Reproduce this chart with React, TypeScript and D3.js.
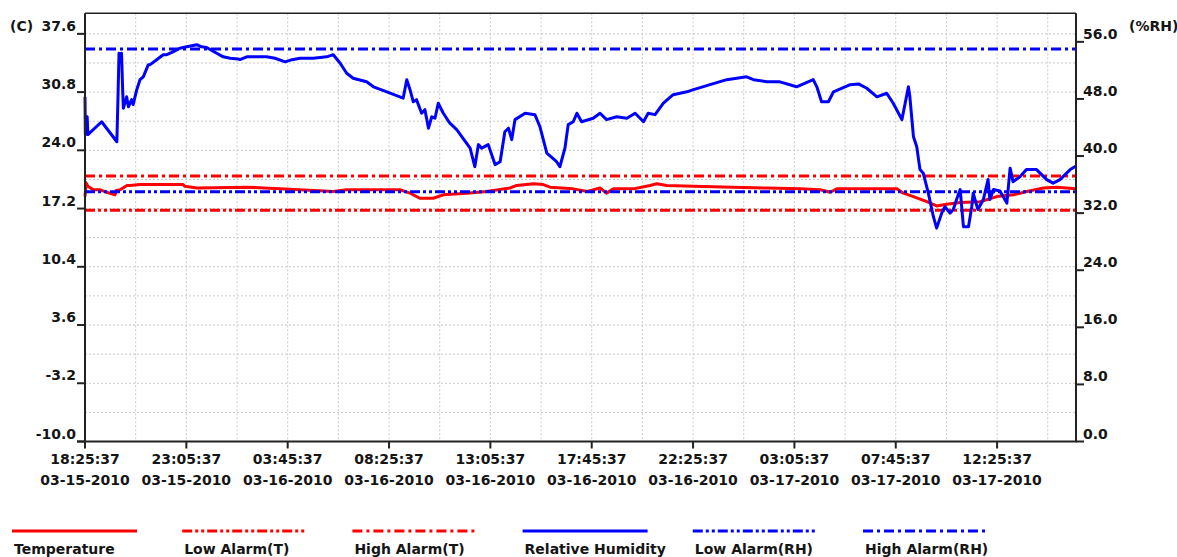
import React from "react";
import * as d3 from "d3";

// ---- data (minutes since 03-15-2010 18:25:37, value) ----
const START = new Date(2010, 2, 15, 18, 25, 37);
const END_MINUTES = 2738;

const temperature: [number, number][] = [
  [0, 18.6], [3, 20.2], [8, 19.8], [23, 19.4], [41, 19.4], [60, 19.1], [83, 18.8], [86, 19.3],
  [97, 19.4], [116, 19.9], [124, 19.9], [152, 20.0], [271, 20.0], [276, 19.8], [309, 19.6],
  [447, 19.7], [539, 19.5], [686, 19.2], [723, 19.4], [870, 19.4], [898, 19.0], [925, 18.4],
  [962, 18.4], [990, 18.8], [1054, 19.0], [1110, 19.2], [1174, 19.6], [1193, 19.9], [1239, 20.1],
  [1266, 20.0], [1285, 19.7], [1349, 19.5], [1388, 19.2], [1423, 19.6], [1441, 19.0], [1460, 19.5],
  [1515, 19.5], [1561, 19.9], [1580, 20.1], [1607, 19.9], [1681, 19.8], [1791, 19.7], [1884, 19.6],
  [1976, 19.5], [2031, 19.4], [2059, 19.1], [2077, 19.5], [2243, 19.5], [2261, 19.0], [2289, 18.6],
  [2326, 18.0], [2353, 17.5], [2381, 17.7], [2418, 17.9], [2473, 18.0], [2519, 18.6], [2565, 18.8],
  [2602, 19.2], [2648, 19.6], [2685, 19.7], [2738, 19.5],
];

const humidity: [number, number][] = [
  [0, 48.3], [1, 43.0], [6, 45.5], [8, 43.0], [46, 44.8], [88, 42.0], [91, 47.9], [94, 54.4],
  [98, 53.5], [101, 54.4], [104, 49.3], [106, 46.7], [115, 48.3], [120, 46.9], [129, 47.9],
  [133, 47.2], [143, 49.3], [152, 50.7], [161, 51.1], [175, 52.8], [180, 52.8], [198, 53.5],
  [216, 54.2], [226, 54.2], [243, 54.6], [262, 55.1], [281, 55.3], [309, 55.6], [322, 55.3],
  [336, 55.2], [364, 54.4], [382, 53.9], [401, 53.7], [423, 53.6], [428, 53.5], [447, 53.9],
  [474, 53.9], [502, 53.9], [525, 53.7], [553, 53.2], [572, 53.5], [594, 53.7], [631, 53.7],
  [668, 53.9], [686, 54.2], [705, 53.0], [723, 51.6], [741, 50.9], [778, 50.4], [797, 49.7],
  [834, 49.0], [879, 48.1], [889, 50.7], [898, 49.3], [907, 47.6], [916, 47.9], [930, 46.0],
  [939, 46.5], [949, 43.9], [958, 45.5], [967, 45.3], [976, 47.4], [990, 46.0], [1008, 44.6],
  [1027, 43.7], [1064, 41.1], [1077, 38.5], [1087, 41.6], [1096, 41.1], [1114, 41.6], [1133, 38.8],
  [1147, 39.2], [1160, 43.4], [1170, 43.9], [1179, 42.3], [1188, 45.1], [1216, 46.0], [1243, 45.8],
  [1257, 44.1], [1276, 40.4], [1303, 39.2], [1312, 38.5], [1326, 41.1], [1335, 44.4], [1349, 44.8],
  [1359, 46.0], [1372, 44.8], [1404, 45.3], [1423, 46.0], [1441, 45.1], [1469, 45.5], [1497, 45.3],
  [1520, 46.0], [1543, 44.8], [1556, 46.0], [1575, 45.8], [1598, 47.4], [1625, 48.6], [1663, 49.0],
  [1681, 49.3], [1727, 50.0], [1773, 50.7], [1828, 51.1], [1847, 50.7], [1884, 50.4], [1920, 50.4],
  [1966, 49.7], [2012, 50.7], [2022, 49.7], [2035, 47.6], [2054, 47.6], [2068, 49.0], [2114, 50.0],
  [2137, 50.1], [2160, 49.5], [2188, 48.3], [2215, 48.8], [2233, 47.4], [2257, 45.1], [2266, 47.4],
  [2275, 49.7], [2279, 48.3], [2289, 42.7], [2298, 41.3], [2307, 38.1], [2316, 37.6], [2330, 34.8],
  [2344, 31.5], [2353, 29.9], [2367, 32.0], [2376, 32.9], [2390, 32.0], [2399, 32.5], [2408, 33.9],
  [2418, 35.3], [2427, 30.1], [2441, 30.1], [2450, 32.9], [2454, 34.8], [2467, 32.5], [2482, 33.9],
  [2495, 36.7], [2500, 33.9], [2510, 35.3], [2528, 35.1], [2547, 33.4], [2556, 38.3], [2564, 36.4],
  [2583, 37.1], [2601, 38.1], [2629, 38.1], [2657, 36.7], [2675, 36.2], [2694, 36.7], [2722, 38.1],
  [2738, 38.6],
];

const lowAlarmT = 17;
const highAlarmT = 21;
const lowAlarmRH = 35;
const highAlarmRH = 55;

const tempTicks = [-10.0, -3.2, 3.6, 10.4, 17.2, 24.0, 30.8, 37.6];
const rhTicks = [0, 8, 16, 24, 32, 40, 48, 56];
const xTickStepMinutes = 280;

const legendNames = [
  "Temperature",
  "Low Alarm(T)",
  "High Alarm(T)",
  "Relative Humidity",
  "Low Alarm(RH)",
  "High Alarm(RH)",
];

// ---- styles ----
const RED = "#ff0000";
const BLUE = "#0000ff";
const TEXT = "#151515";
const FONT = "'DejaVu Sans', Verdana, sans-serif";
const DASH_DOT = "10,4,3,4";
const DASH_DOT_DOT = "10,3,3,3,3,3";

const W = 1177;
const H = 557;
const L = 85;
const R = 1076;
const T = 13.3;
const B = 441.5;

const addMin = (m: number) => new Date(START.getTime() + m * 60000);

export default function App() {
  const x = d3.scaleTime().domain([START, addMin(END_MINUTES)]).range([L, R]);
  const yT = d3.scaleLinear().domain([-10, 40]).range([B, T]);
  const yRH = d3.scaleLinear().domain([0, 60]).range([B, T]);

  const lineT = d3
    .line<[number, number]>()
    .x((d) => x(addMin(d[0])))
    .y((d) => yT(d[1]));
  const lineRH = d3
    .line<[number, number]>()
    .x((d) => x(addMin(d[0])))
    .y((d) => yRH(d[1]));

  const vGrid = d3.range(140, END_MINUTES, 140).map((m) => x(addMin(m)));
  const hGrid = d3.range(1, 15).map((k) => yT(-10 + 3.4 * k));
  const xTicks = d3.range(0, END_MINUTES, xTickStepMinutes).map((m) => addMin(m));
  const fTime = d3.timeFormat("%H:%M:%S");
  const fDate = d3.timeFormat("%m-%d-%Y");

  const legendStyles = [
    { color: RED, dash: undefined },
    { color: RED, dash: DASH_DOT_DOT },
    { color: RED, dash: DASH_DOT },
    { color: BLUE, dash: undefined },
    { color: BLUE, dash: DASH_DOT_DOT },
    { color: BLUE, dash: DASH_DOT },
  ];

  const alarm = (y: number, color: string, dash: string) => (
    <line x1={L} x2={R} y1={y} y2={y} stroke={color} strokeWidth={3} strokeDasharray={dash} />
  );

  return (
    <svg
      width={W}
      height={H}
      style={{ position: "absolute", left: 0, top: 0, background: "#fff" }}
      fontFamily={FONT}
      fontWeight="bold"
      fontSize={14}
    >
      <rect x={0} y={0} width={W} height={H} fill="#fff" />
      {/* grid */}
      <g stroke="#c8c8c8" strokeWidth={1} strokeDasharray="2,2">
        {vGrid.map((gx, i) => (
          <line key={"v" + i} x1={gx} x2={gx} y1={T} y2={B} />
        ))}
        {hGrid.map((gy, i) => (
          <line key={"h" + i} x1={L} x2={R} y1={gy} y2={gy} />
        ))}
      </g>

      {/* series */}
      <path d={lineT(temperature) || ""} fill="none" stroke={RED} strokeWidth={3} strokeLinejoin="round" />
      {alarm(yT(lowAlarmT), RED, DASH_DOT_DOT)}
      {alarm(yT(highAlarmT), RED, DASH_DOT)}
      <path d={lineRH(humidity) || ""} fill="none" stroke={BLUE} strokeWidth={3} strokeLinejoin="round" />
      {alarm(yRH(lowAlarmRH), BLUE, DASH_DOT_DOT)}
      {alarm(yRH(highAlarmRH), BLUE, DASH_DOT)}

      {/* frame */}
      <line x1={L} x2={R} y1={T} y2={T} stroke="#222" strokeWidth={1.5} />
      <line x1={L} x2={L} y1={T} y2={B} stroke="#222" strokeWidth={2} />
      <line x1={R} x2={R} y1={T} y2={B} stroke="#222" strokeWidth={2} />
      <line x1={L - 8} x2={R + 1} y1={B} y2={B} stroke="#222" strokeWidth={2} />

      {/* left axis */}
      {tempTicks.map((v, i) => (
        <g key={"lt" + i}>
          <line x1={L - 8} x2={L} y1={yT(v)} y2={yT(v)} stroke="#222" strokeWidth={2} />
          <text x={L - 9} y={yT(v) - 3} textAnchor="end" fill={TEXT}>
            {v.toFixed(1)}
          </text>
        </g>
      ))}
      <text x={10} y={31} fill={TEXT}>(C)</text>

      {/* right axis */}
      {rhTicks.map((v, i) => (
        <g key={"rt" + i}>
          <line x1={R} x2={R + 8} y1={yRH(v)} y2={yRH(v)} stroke="#222" strokeWidth={2} />
          <text x={R + 7} y={yRH(v) - 3} textAnchor="start" fill={TEXT}>
            {v.toFixed(1)}
          </text>
        </g>
      ))}
      <text x={1129} y={31} fill={TEXT}>(%RH)</text>

      {/* bottom axis */}
      {xTicks.map((d, i) => (
        <g key={"xt" + i}>
          <line x1={x(d)} x2={x(d)} y1={B} y2={B + 7} stroke="#222" strokeWidth={2} />
          <text x={x(d)} y={464} textAnchor="middle" fill={TEXT}>
            {fTime(d)}
          </text>
          <text x={x(d)} y={485} textAnchor="middle" fill={TEXT}>
            {fDate(d)}
          </text>
        </g>
      ))}

      {/* legend */}
      {legendNames.map((name, i) => {
        const lx = 12 + 170.2 * i;
        const s = legendStyles[i];
        return (
          <g key={"lg" + i}>
            <line x1={lx} x2={lx + 125} y1={531} y2={531} stroke={s.color} strokeWidth={3} strokeDasharray={s.dash} />
            <text x={lx + 2} y={553.5} fill={TEXT}>
              {name}
            </text>
          </g>
        );
      })}
    </svg>
  );
}
